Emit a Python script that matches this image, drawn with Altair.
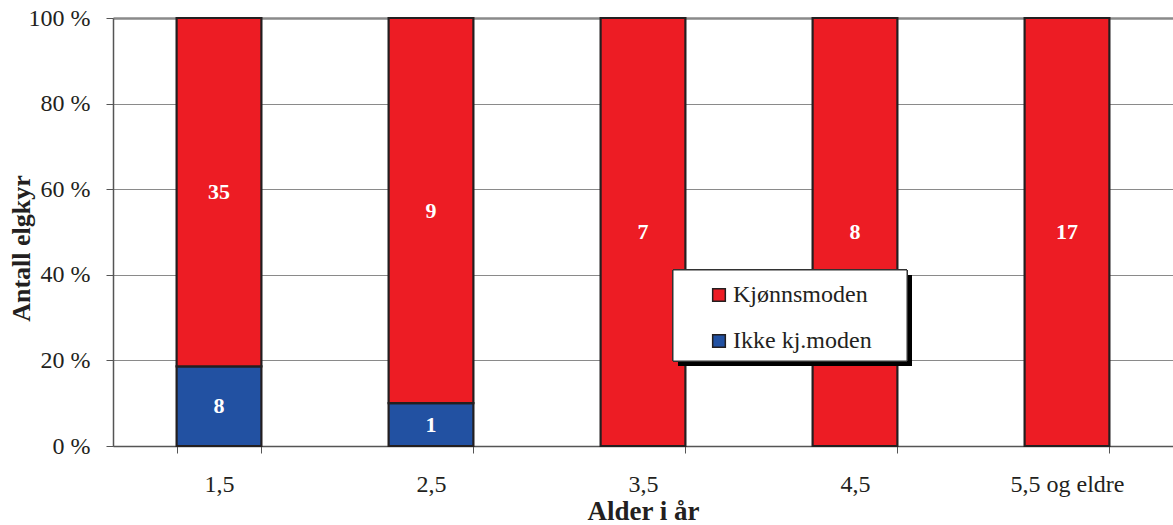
import altair as alt
import pandas as pd

# Antall elgkyr per aldersklasse, fordelt på kjønnsmodne og ikke kjønnsmodne
alder = ["1,5", "2,5", "3,5", "4,5", "5,5 og eldre"]
kjonnsmoden = [35, 9, 7, 8, 17]
ikke_kjmoden = [8, 1, 0, 0, 0]

serier = ["Kjønnsmoden", "Ikke kj.moden"]
farger = ["#ED1C24", "#2251A2"]

rows = []
for i, a in enumerate(alder):
    rows.append({"alder": a, "status": "Ikke kj.moden", "antall": ikke_kjmoden[i], "rekke": 0})
    rows.append({"alder": a, "status": "Kjønnsmoden", "antall": kjonnsmoden[i], "rekke": 1})
df = pd.DataFrame(rows)

FONT = "Liberation Serif"
INK = "#231F20"

base = (
    alt.Chart(df)
    .transform_filter("datum.antall > 0")
    .transform_joinaggregate(total="sum(antall)", groupby=["alder"])
    .transform_calculate(andel="datum.antall / datum.total")
    .transform_stack(stack="andel", groupby=["alder"], sort=[alt.SortField("rekke", order="ascending")], as_=["y0", "y1"])
    .transform_calculate(midt="(datum.y0 + datum.y1) / 2")
)

x_enc = alt.X(
    "alder:N",
    sort=alder,
    scale=alt.Scale(paddingInner=0.6, paddingOuter=0.3),
    axis=alt.Axis(
        title="Alder i år",
        labelAngle=0,
        labelFont=FONT,
        labelFontSize=24,
        labelColor=INK,
        labelPadding=19,
        tickBand="extent",
        tickSize=7,
        tickColor="#555555",
        domainColor="#555555",
        domainWidth=1.5,
        titleFont=FONT,
        titleFontSize=27,
        titleFontWeight="bold",
        titleColor=INK,
        titlePadding=2,
        grid=False,
    ),
)

bars = base.mark_bar(stroke=INK, strokeWidth=2.2).encode(
    x=x_enc,
    y=alt.Y(
        "y0:Q",
        scale=alt.Scale(domain=[0, 1], nice=False),
        axis=alt.Axis(
            title="Antall elgkyr",
            values=[0, 0.2, 0.4, 0.6, 0.8, 1.0],
            labelExpr="format(datum.value * 100, 'd') + ' %'",
            labelFont=FONT,
            labelFontSize=24,
            labelColor=INK,
            labelPadding=16,
            tickSize=7,
            tickColor="#555555",
            domainColor="#555555",
            domainWidth=1.5,
            gridColor="#8a8a8a",
            gridWidth={"condition": {"test": "datum.value == 1", "value": 2.5}, "value": 1},
            titleFont=FONT,
            titleFontSize=26,
            titleFontWeight="bold",
            titleColor=INK,
            titleX=-92,
            titleY=230,
            titleBaseline="middle",
        ),
    ),
    y2="y1:Q",
    color=alt.Color(
        "status:N",
        scale=alt.Scale(domain=serier, range=farger),
        legend=alt.Legend(
            title=None,
            orient="none",
            legendX=594,
            legendY=265,
            fillColor="transparent",
            strokeColor="transparent",
            padding=0,
            symbolType="square",
            symbolSize=160,
            symbolStrokeColor=INK,
            symbolStrokeWidth=1.5,
            labelFont=FONT,
            labelFontSize=24,
            labelColor=INK,
            labelOffset=2,
            rowPadding=22,
            labelLimit=300,
        ),
    ),
)

labels = base.mark_text(font=FONT, fontSize=22, fontWeight="bold", color="white").encode(
    x=alt.X("alder:N", sort=alder),
    y=alt.Y("midt:Q"),
    text="antall:Q",
)

# ramme og skygge for tegnforklaringen
skygge = alt.Chart(df).mark_rect(color="black").encode(
    x=alt.value(565), x2=alt.value(799), y=alt.value(257), y2=alt.value(348)
)
ramme = alt.Chart(df).mark_rect(fill="white", stroke="#333333", strokeWidth=1).encode(
    x=alt.value(560), x2=alt.value(794), y=alt.value(252), y2=alt.value(343)
)

chart = (
    alt.layer(bars, labels, skygge, ramme)
    .properties(
        width=1060,
        height=428,
        autosize=alt.AutoSizeParams(type="none"),
        padding={"left": 113, "top": 18, "right": 0, "bottom": 79},
    )
    .configure_view(stroke=None)
    .configure(background="white", font=FONT)
)

chart.save("out.html", embed_options={"renderer": "svg", "actions": False})
